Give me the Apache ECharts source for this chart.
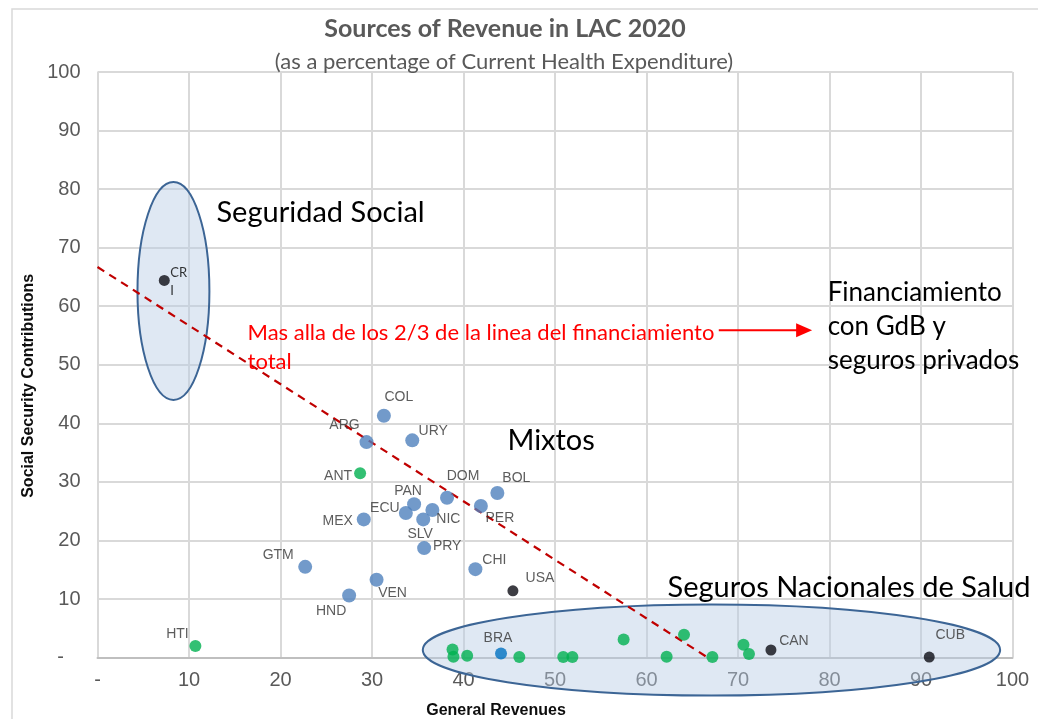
<!DOCTYPE html>
<html>
<head>
<meta charset="utf-8">
<script src="https://cdn.jsdelivr.net/npm/echarts@6/dist/echarts.min.js"></script>
<style>
html,body{margin:0;padding:0;background:#fff;}
#c{width:1038px;height:719px;}
</style>
</head>
<body>
<div id="c"></div>
<script>
// ---------------- DATA ----------------
const blueNames = ['COL','ARG','URY','DOM','BOL','PAN','ECU','NIC','SLV','MEX','PER','PRY','CHI','GTM','VEN','HND'];
const blueX     = [31.3, 29.4, 34.4, 38.2, 43.7, 34.6, 33.7, 36.6, 35.6, 29.1, 41.9, 35.7, 41.3, 22.7, 30.5, 27.5];
const blueY     = [41.3, 36.8, 37.1, 27.3, 28.1, 26.2, 24.7, 25.2, 23.6, 23.6, 25.9, 18.7, 15.1, 15.5, 13.3, 10.6];

const braNames = ['BRA'];
const braX     = [44.1];
const braY     = [0.7];

const greenNames = ['ANT','HTI','','','','','','','','','','','',''];
const greenX     = [28.7, 10.7, 38.8, 38.9, 40.4, 46.1, 50.9, 51.9, 57.5, 62.2, 64.1, 67.2, 70.6, 71.2];
const greenY     = [31.5, 2.0,  1.4,  0.15, 0.3,  0.1,  0.1,  0.1,  3.1,  0.15, 3.9,  0.1,  2.2,  0.6];

const blackNames = ['CRI','USA','CAN','CUB'];
const blackX     = [7.3, 45.4, 73.6, 90.9];
const blackY     = [64.4, 11.4, 1.3, 0.1];

// two-thirds line (x + y = 66.7)
const refLineX = [0, 66.7];
const refLineY = [66.7, 0];

const xTicks = [0,10,20,30,40,50,60,70,80,90,100];
const yTicks = [0,10,20,30,40,50,60,70,80,90,100];

const titleText = 'Sources of Revenue in LAC 2020';
const subtitleText = '(as a percentage of Current Health Expenditure)';
const xName = 'General Revenues';
const yName = 'Social Security Contributions';

// annotation groups (data-space centres / radii)
const ellipseSS  = {cx: 8.3,  cy: 62.6, rx: 3.93,  ry: 18.6};
const ellipseSNS = {cx: 67.1, cy: 1.3,  rx: 31.55, ry: 7.77};

const annoTexts = [
  {text: 'Seguridad Social', x: 13.0, y: 75.9},
  {text: 'Mixtos', x: 44.8, y: 37.1},
  {text: 'Seguros Nacionales de Salud', x: 62.3, y: 11.9}
];
const finNote = {text: 'Financiamiento\ncon GdB y\nseguros privados', x: 79.8, y: 62.4};
const redNote = {text: 'Mas alla de los 2/3 de la linea del financiamiento\ntotal', x: 16.4, y: 55.4};
const arrowFrom = [67.9, 55.9];
const arrowTo   = [78.1, 55.9];

// ---------------- STYLE ----------------
const AR = '"Liberation Sans", Arial, sans-serif';
const CAL = 'Lato, Carlito, Calibri, sans-serif';
const labelOffsets = {
  COL:[15,-19], ARG:[-22,-17], URY:[21,-9], DOM:[16,-22], BOL:[19,-15], PAN:[-6,-13],
  ECU:[-21,-5], NIC:[16,9], SLV:[-3,15], MEX:[-26,2], PER:[19,12], PRY:[23,-2],
  CHI:[19,-9], GTM:[-27,-12], VEN:[16,13], HND:[-18,16], BRA:[-3,-15],
  ANT:[-22,3], HTI:[-18,-12], USA:[27,-13], CAN:[23,-9], CUB:[21,-22], CRI:[14,0]
};

function mk(names, xs, ys) {
  return xs.map((x, i) => {
    const n = names[i] || '';
    const off = labelOffsets[n] || [0,0];
    const item = {value: [x, ys[i]], name: n};
    if (n) {
      item.label = {show: true, position: 'inside', offset: off, formatter: n === 'CRI' ? 'CR\nI' : '{b}'};
      if (n === 'CRI') {
        item.label.fontFamily = CAL; item.label.fontSize = 13; item.label.color = '#000';
        item.label.lineHeight = 18; item.label.align = 'left'; item.label.offset = [6, 1];
      }
    }
    return item;
  });
}
const baseLabel = {show: false, fontFamily: AR, fontSize: 14, color: '#333333'};

const chart = echarts.init(document.getElementById('c'), null, {renderer: 'canvas'});

const axisCommon = {
  type: 'value', min: 0, max: 100, interval: 10,
  axisTick: {show: false},
  splitLine: {show: true, lineStyle: {color: '#d9d9d9', width: 2}},
  nameLocation: 'middle'
};

const option = {
  animation: false,
  backgroundColor: '#fff',
  title: [
    {text: titleText, left: 500, top: 11, textAlign: 'center',
     textStyle: {fontFamily: CAL, fontWeight: 'bold', fontSize: 25, color: '#595959'}},
    {text: subtitleText, left: 499, top: 46, textAlign: 'center',
     textStyle: {fontFamily: CAL, fontWeight: 'normal', fontSize: 22, color: '#595959'}}
  ],
  grid: {left: 97.5, right: 25.5, top: 72, bottom: 61.4, containLabel: false, outerBoundsMode: 'none'},
  xAxis: Object.assign({}, axisCommon, {
    name: xName, nameGap: 45,
    nameTextStyle: {fontFamily: AR, fontWeight: 'bold', fontSize: 16, color: '#0d0d0d', padding: [0, 118, 0, 0]},
    axisLine: {show: true, lineStyle: {color: '#bfbfbf', width: 2}},
    axisLabel: {color: '#595959', fontFamily: AR, fontSize: 20, margin: 13,
      formatter: v => (v === 0 ? '-' : String(v))}
  }),
  yAxis: Object.assign({}, axisCommon, {
    name: yName, nameGap: 48,
    nameTextStyle: {fontFamily: AR, fontWeight: 'bold', fontSize: 16, color: '#0d0d0d', padding: [0, 42, 0, 0]},
    axisLine: {show: false},
    axisLabel: {color: '#595959', fontFamily: AR, fontSize: 20, margin: 17,
      formatter: v => (v === 0 ? '-   ' : String(v))}
  }),
  series: [
    {type: 'line', data: refLineX.map((x, i) => [x, refLineY[i]]), symbol: 'none', z: 3,
     lineStyle: {color: '#c00000', width: 2.2, type: [8, 6]}, silent: true},
    {type: 'scatter', z: 4, symbolSize: 14, itemStyle: {color: '#4f81bd'}, label: baseLabel,
     data: mk(blueNames, blueX, blueY)},
    {type: 'scatter', z: 4, symbolSize: 12, itemStyle: {color: '#0070c0'}, label: baseLabel,
     data: mk(braNames, braX, braY)},
    {type: 'scatter', z: 4, symbolSize: 12, itemStyle: {color: '#00b050'}, label: baseLabel,
     data: mk(greenNames, greenX, greenY)},
    {type: 'scatter', z: 4, symbolSize: 11, itemStyle: {color: '#0d0d14'}, label: baseLabel,
     data: mk(blackNames, blackX, blackY)}
  ]
};
chart.setOption(option);

// ---------------- ANNOTATIONS (placed from data coords) ----------------
function px(p) { return chart.convertToPixel({gridIndex: 0}, p); }
function ell(e) {
  const c = px([e.cx, e.cy]);
  const r = px([e.cx + e.rx, e.cy + e.ry]);
  return {type: 'ellipse', z: 1,
    shape: {cx: c[0], cy: c[1], rx: Math.abs(r[0] - c[0]), ry: Math.abs(c[1] - r[1])},
    style: {fill: 'rgba(184,204,228,0.45)', stroke: '#3c6595', lineWidth: 2}};
}
const gr = [];
gr.push({type: 'rect', z: 0, shape: {x: 12, y: 9, width: 1040, height: 720},
  style: {fill: 'none', stroke: '#d9d9d9', lineWidth: 1.5}});
gr.push(ell(ellipseSS));
gr.push(ell(ellipseSNS));
annoTexts.forEach(t => {
  const p = px([t.x, t.y]);
  gr.push({type: 'text', z: 10, x: p[0], y: p[1],
    style: {text: t.text, fontFamily: CAL, fontSize: 29, fill: '#000',
      align: 'left', verticalAlign: 'middle'}});
});
const fp = px([finNote.x, finNote.y]);
gr.push({type: 'text', z: 10, x: fp[0], y: fp[1] - 17,
  style: {text: finNote.text, fontFamily: CAL, fontSize: 26, fill: '#000',
    align: 'left', verticalAlign: 'top', lineHeight: 34}});
const rp = px([redNote.x, redNote.y]);
gr.push({type: 'text', z: 10, x: rp[0], y: rp[1] - 14.5,
  style: {text: redNote.text, fontFamily: CAL, fontSize: 22, fill: '#ff0000',
    align: 'left', verticalAlign: 'top', lineHeight: 29}});
const a0 = px(arrowFrom), a1 = px(arrowTo);
gr.push({type: 'line', z: 10, shape: {x1: a0[0], y1: a0[1], x2: a1[0] - 14, y2: a1[1]},
  style: {stroke: '#ff0000', lineWidth: 2}});
gr.push({type: 'polygon', z: 10,
  shape: {points: [[a1[0], a1[1]], [a1[0] - 16, a1[1] - 7], [a1[0] - 16, a1[1] + 7]]},
  style: {fill: '#ff0000'}});
chart.setOption({graphic: gr});
</script>
</body>
</html>
